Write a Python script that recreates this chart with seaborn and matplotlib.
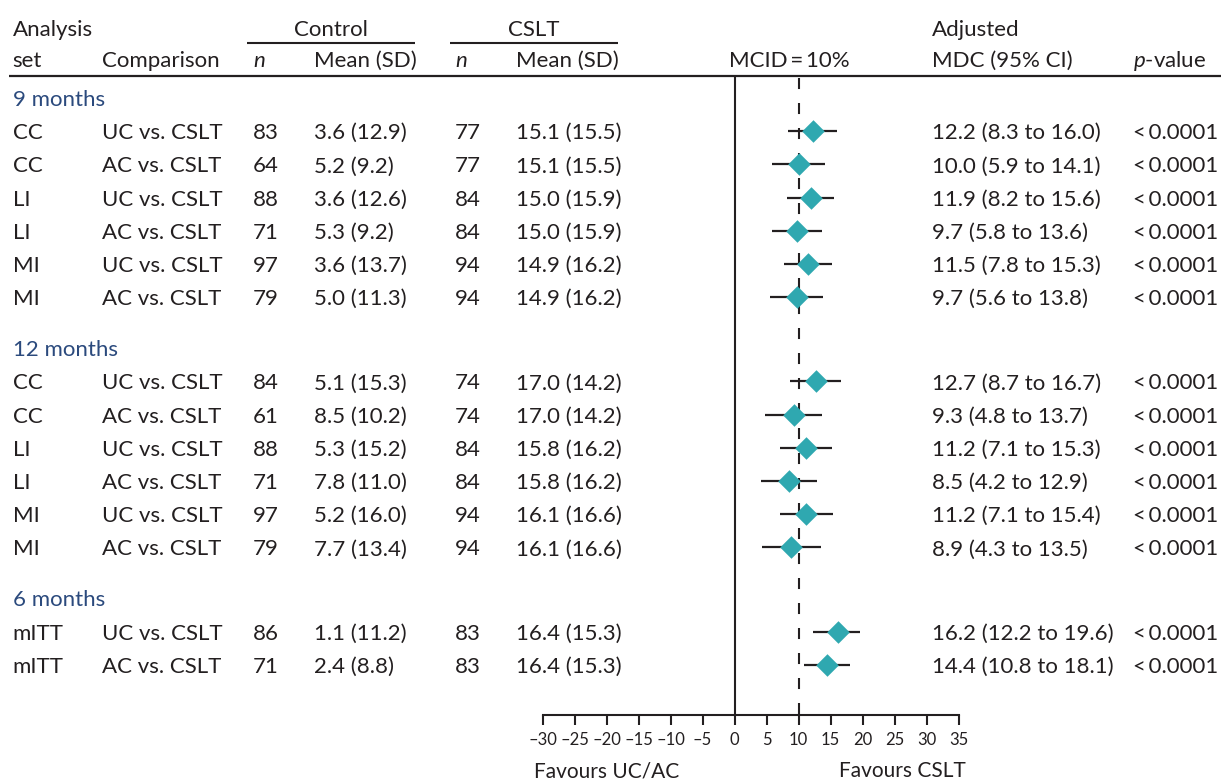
import matplotlib
matplotlib.use("Agg")
import matplotlib.pyplot as plt
import matplotlib.transforms as mtransforms
import pandas as pd
import seaborn as sns

# ---- data -------------------------------------------------------------
sections = ["9 months", "12 months", "6 months"]
section_sizes = [6, 6, 2]
analysis_set = ["CC", "CC", "LI", "LI", "MI", "MI",
                "CC", "CC", "LI", "LI", "MI", "MI",
                "mITT", "mITT"]
comparison = ["UC vs. CSLT", "AC vs. CSLT"] * 7
control_n = [83, 64, 88, 71, 97, 79, 84, 61, 88, 71, 97, 79, 86, 71]
control_mean = [3.6, 5.2, 3.6, 5.3, 3.6, 5.0, 5.1, 8.5, 5.3, 7.8, 5.2, 7.7, 1.1, 2.4]
control_sd = [12.9, 9.2, 12.6, 9.2, 13.7, 11.3, 15.3, 10.2, 15.2, 11.0, 16.0, 13.4, 11.2, 8.8]
cslt_n = [77, 77, 84, 84, 94, 94, 74, 74, 84, 84, 94, 94, 83, 83]
cslt_mean = [15.1, 15.1, 15.0, 15.0, 14.9, 14.9, 17.0, 17.0, 15.8, 15.8, 16.1, 16.1, 16.4, 16.4]
cslt_sd = [15.5, 15.5, 15.9, 15.9, 16.2, 16.2, 14.2, 14.2, 16.2, 16.2, 16.6, 16.6, 15.3, 15.3]
mdc = [12.2, 10.0, 11.9, 9.7, 11.5, 9.7, 12.7, 9.3, 11.2, 8.5, 11.2, 8.9, 16.2, 14.4]
ci_low = [8.3, 5.9, 8.2, 5.8, 7.8, 5.6, 8.7, 4.8, 7.1, 4.2, 7.1, 4.3, 12.2, 10.8]
ci_high = [16.0, 14.1, 15.6, 13.6, 15.3, 13.8, 16.7, 13.7, 15.3, 12.9, 15.4, 13.5, 19.6, 18.1]
p_value = ["<\u20090.0001"] * 14
mcid = 10
x_ticks = [-30, -25, -20, -15, -10, -5, 0, 5, 10, 15, 20, 25, 30, 35]
x_tick_labels = ["\u201330", "\u201325", "\u201320", "\u201315", "\u201310", "\u20135",
                 "0", "5", "10", "15", "20", "25", "30", "35"]

# ---- style --------------------------------------------------------------
sns.set_theme(style="white")
plt.rcParams["font.family"] = ["Lato", "DejaVu Sans"]
plt.rcParams["mathtext.fontset"] = "custom"
plt.rcParams["mathtext.rm"] = "Lato"
plt.rcParams["mathtext.it"] = "Lato:italic"

INK = "#231f20"
SECTION = "#2b4a7d"
TEAL = "#2fa8b0"
FS = 16

W, H = 1221, 781
fig = plt.figure(figsize=(W / 100, H / 100), dpi=100)
fig.patch.set_facecolor("white")

# One axes spanning the figure: x in effect units, y in pixel rows (top = 0)
PX_PER_UNIT = 6.4
X_ZERO = 734.5
ax = fig.add_axes([0, 0, 1, 1])
ax.set_facecolor("none")

# row layout
ROW_STEP = 33.2
SECTION_GAP = 51
header_y = []
row_y = []
y = 98
for size in section_sizes:
    header_y.append(y)
    for i in range(size):
        row_y.append(y + ROW_STEP * (i + 1))
    y = row_y[-1] + SECTION_GAP

df = pd.DataFrame({"mdc": mdc, "lo": ci_low, "hi": ci_high, "y": row_y})

AXIS_Y = 715
RULE_Y = 76

# reference lines
ax.vlines(0, RULE_Y, AXIS_Y, color=INK, lw=1.5, zorder=2)
ax.plot([mcid, mcid], [78, AXIS_Y], color=INK, lw=1.5, dashes=(5.3, 6.7), zorder=2)

# confidence intervals and point estimates
ax.hlines(df["y"], df["lo"], df["hi"], color=INK, lw=1.6, zorder=3)
sns.scatterplot(data=df, x="mdc", y="y", marker="D", s=132, color=TEAL,
                linewidth=0, ax=ax, zorder=4, legend=False)

ax.set_xlim(-X_ZERO / PX_PER_UNIT, (W - X_ZERO) / PX_PER_UNIT)
ax.set_ylim(H, 0)
ax.set_xlabel("")
ax.set_ylabel("")
ax.set_yticks([])

for side in ["top", "left", "right"]:
    ax.spines[side].set_visible(False)
ax.spines["bottom"].set_position(("data", AXIS_Y))
ax.spines["bottom"].set_bounds(x_ticks[0], x_ticks[-1])
ax.spines["bottom"].set_linewidth(1.5)
ax.spines["bottom"].set_color(INK)
ax.set_xticks(x_ticks)
ax.set_xticklabels(x_tick_labels)
ax.tick_params(axis="x", direction="out", length=7, width=1.5, color=INK,
               labelsize=12, labelcolor=INK, pad=5, bottom=True)

# ---- table text ----------------------------------------------------------
tr = mtransforms.blended_transform_factory(fig.transFigure, ax.transData)


def put(x, yb, s, ha="left", color=INK, size=FS, **kw):
    ax.text(x / W, yb, s, transform=tr, ha=ha, va="baseline", color=color,
            fontsize=size, **kw)


def rule(x0, x1, yy, lw=1.5):
    ax.plot([x0 / W, x1 / W], [yy, yy], transform=tr, color=INK, lw=lw,
            clip_on=False, solid_capstyle="butt")


B = 8  # baseline offset below a row's centre

# column headers
put(12.7, 36, "Analysis")
put(12.7, 67, "set")
put(102, 67, "Comparison")
put(331, 36, "Control", ha="center")
rule(247, 415, 42.5)
put(253, 67, "$n$")
put(314, 67, "Mean (SD)")
put(534, 36, "CSLT", ha="center")
rule(450, 618, 42.5)
put(455, 67, "$n$")
put(516, 67, "Mean (SD)")
put(789, 67, "MCID\u2009=\u200910%", ha="center")
put(932, 36, "Adjusted")
put(932, 67, "MDC (95% CI)")
put(1133, 67, "$p$-value")
rule(9, W, RULE_Y, lw=1.6)

for name, hy in zip(sections, header_y):
    put(12.7, hy + B, name, color=SECTION)

for i, ry in enumerate(row_y):
    yb = ry + B
    put(12.7, yb, analysis_set[i])
    put(102, yb, comparison[i])
    put(253, yb, f"{control_n[i]}")
    put(314, yb, f"{control_mean[i]:.1f} ({control_sd[i]:.1f})")
    put(455, yb, f"{cslt_n[i]}")
    put(516, yb, f"{cslt_mean[i]:.1f} ({cslt_sd[i]:.1f})")
    put(932, yb, f"{mdc[i]:.1f} ({ci_low[i]:.1f} to {ci_high[i]:.1f})")
    put(1218, yb, p_value[i], ha="right")

# direction labels under the axis
put(607, 777, "Favours UC/AC", ha="center", size=15)
put(902.5, 777, "Favours CSLT", ha="center", size=15)

fig.savefig("out.png", dpi=100, facecolor="white")
